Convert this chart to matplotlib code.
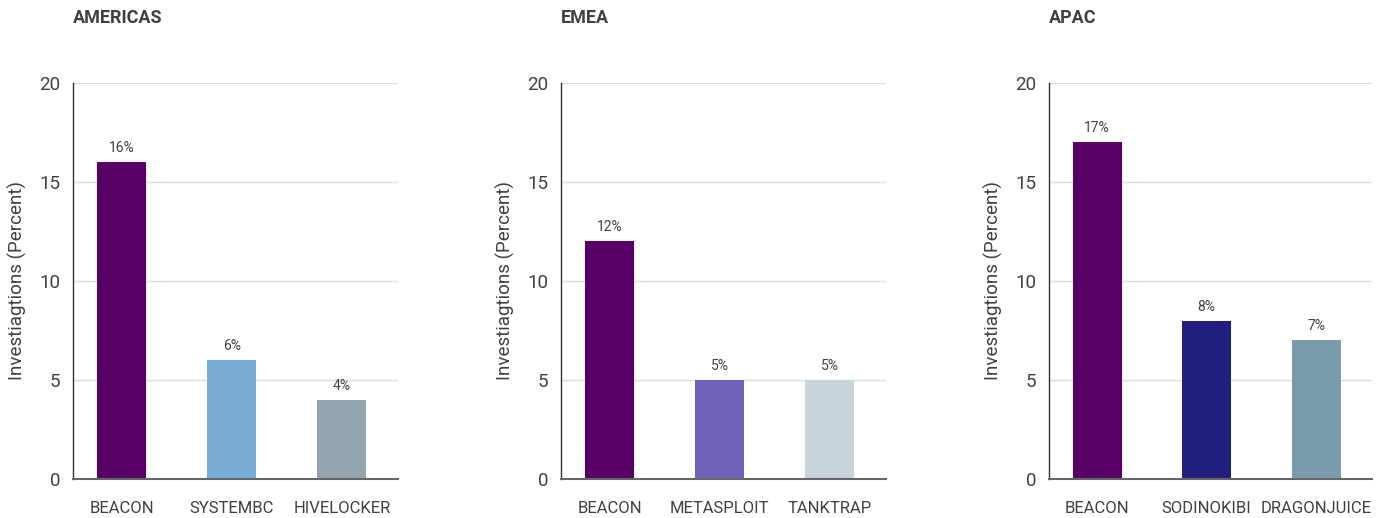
import matplotlib
matplotlib.use("Agg")
import matplotlib.pyplot as plt

plt.rcParams.update({
    "font.family": ["Roboto", "DejaVu Sans"],
    "figure.facecolor": "white",
})

# data
regions = ["AMERICAS", "EMEA", "APAC"]
americas_labels = ["BEACON", "SYSTEMBC", "HIVELOCKER"]
americas_values = [16, 6, 4]
americas_colors = ["#560068", "#7aaed6", "#94a5b0"]
emea_labels = ["BEACON", "METASPLOIT", "TANKTRAP"]
emea_values = [12, 5, 5]
emea_colors = ["#560068", "#7163b9", "#c9d3da"]
apac_labels = ["BEACON", "SODINOKIBI", "DRAGONJUICE"]
apac_values = [17, 8, 7]
apac_colors = ["#560068", "#211e80", "#789cab"]
y_ticks = [0, 5, 10, 15, 20]

panels = [
    (americas_labels, americas_values, americas_colors),
    (emea_labels, emea_values, emea_colors),
    (apac_labels, apac_values, apac_colors),
]

W, H = 1384, 518
fig = plt.figure(figsize=(W / 100, H / 100), dpi=100)

lefts = [73, 561, 1049]
rights = [398, 886, 1372]
top_px, bot_px = 83, 479

text_col = "#3f3f46"

for region, (labels, values, colors), l, r in zip(regions, panels, lefts, rights):
    ax = fig.add_axes([l / W, 1 - bot_px / H, (r - l) / W, (bot_px - top_px) / H])
    x = range(len(labels))
    ax.bar(x, values, width=0.445, color=colors, zorder=3)
    for xi, v in zip(x, values):
        ax.text(xi, v + 0.35, f"{v}%", ha="center", va="bottom", fontsize=10, color=text_col)
    ax.set_xlim(-0.44, 2.51)
    ax.set_ylim(0, 20)
    ax.set_yticks(y_ticks)
    ax.set_xticks(list(x))
    ax.set_xticklabels(labels)
    ax.tick_params(axis="x", length=0, pad=16, labelsize=12, labelcolor=text_col)
    ax.tick_params(axis="y", length=0, pad=9, labelsize=13.5, labelcolor=text_col)
    ax.grid(axis="y", color="#dddddd", linewidth=1, zorder=0)
    for s in ["top", "right"]:
        ax.spines[s].set_visible(False)
    ax.spines["left"].set_color("#333333")
    ax.spines["left"].set_linewidth(1)
    ax.spines["bottom"].set_color("#666666")
    ax.spines["bottom"].set_linewidth(1.5)
    ax.spines["bottom"].set_zorder(4)
    ax.set_ylabel("Investiagtions (Percent)", fontsize=13.5, color=text_col, labelpad=9)
    fig.text(l / W, 1 - 18 / H, region, fontsize=13, fontweight="bold", color=text_col,
             ha="left", va="center")

fig.savefig("out.png", dpi=100)
